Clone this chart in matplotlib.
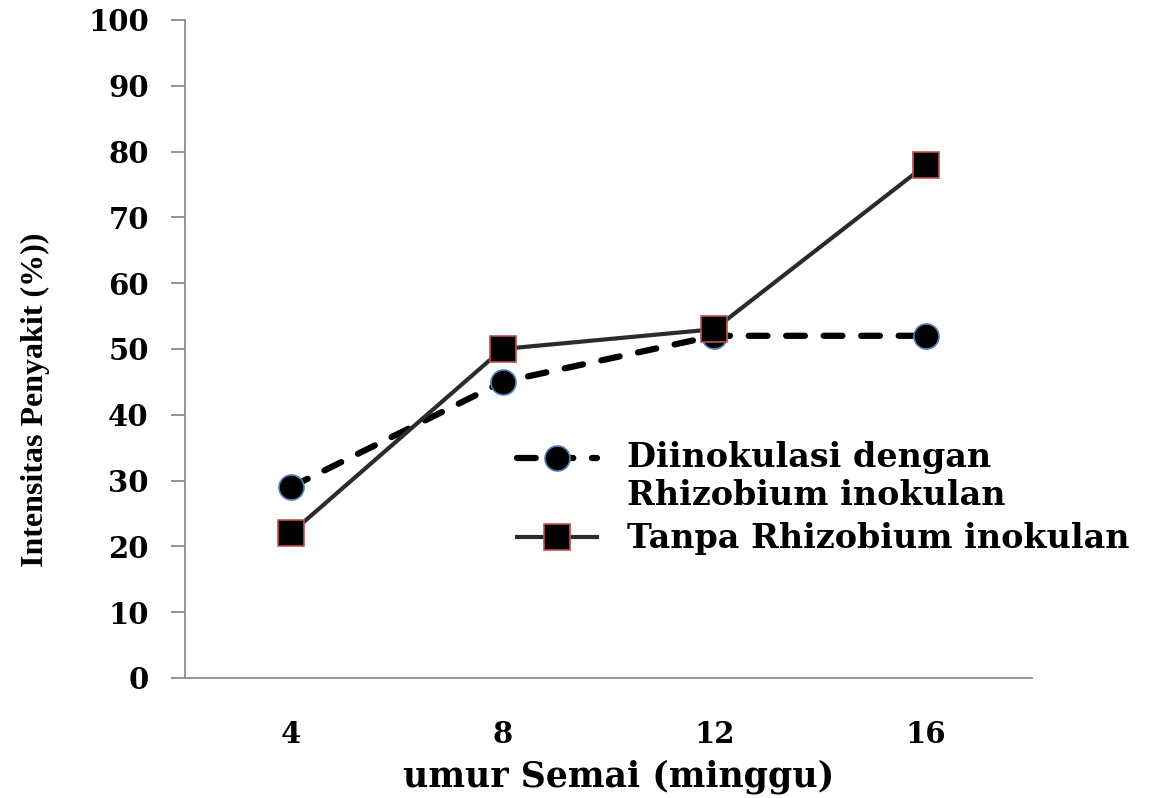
import numpy as np
import matplotlib
matplotlib.use('Agg')
import matplotlib.pyplot as plt
from matplotlib.legend_handler import HandlerLine2D

# Data
weeks = ['4', '8', '12', '16']
diinokulasi = [29, 45, 52, 52]
tanpa = [22, 50, 53, 78]
yticks = [0, 10, 20, 30, 40, 50, 60, 70, 80, 90, 100]

plt.rcParams['font.family'] = ['DejaVu Serif']
plt.rcParams['font.weight'] = 'bold'


# legend handle lifted to the first line of a two-line label
class FirstLineHandler(HandlerLine2D):
    def create_artists(self, legend, orig_handle, xdescent, ydescent,
                       width, height, fontsize, trans):
        arts = super().create_artists(legend, orig_handle, xdescent, ydescent,
                                      width, height, fontsize, trans)
        for a in arts:
            a.set_ydata(np.asarray(a.get_ydata()) + 0.6 * fontsize)
        return arts


fig = plt.figure(figsize=(11.59, 7.98), dpi=100)
ax = fig.add_axes([0.1596, 0.1504, 0.7308, 0.8246])

x = np.arange(len(weeks))
l1, = ax.plot(x, diinokulasi, color='black', lw=4.5, linestyle=(0, (3, 3)),
              dash_capstyle='round', solid_capstyle='round',
              marker='o', markersize=18, markerfacecolor='black',
              markeredgecolor='#4f81bd', markeredgewidth=1.2,
              label='Diinokulasi dengan\nRhizobium inokulan')
l2, = ax.plot(x, tanpa, color='#2b2b2b', lw=3, linestyle='-',
              marker='s', markersize=19, markerfacecolor='black',
              markeredgecolor='#c0504d', markeredgewidth=1.2,
              label='Tanpa Rhizobium inokulan')

ax.set_xlim(-0.5, 3.5)
ax.set_ylim(0, 100)
ax.set_xticks(x)
ax.set_xticklabels(weeks)
ax.set_yticks(yticks)

for s in ['top', 'right']:
    ax.spines[s].set_visible(False)
for s in ['left', 'bottom']:
    ax.spines[s].set_color('#8c8c8c')
    ax.spines[s].set_linewidth(1.3)

ax.tick_params(axis='y', direction='out', length=10, width=1.3, color='#8c8c8c',
               pad=16, labelsize=21)
ax.tick_params(axis='x', length=0, pad=30, labelsize=21)

ax.set_ylabel('Intensitas Penyakit (%))', fontsize=23, fontweight='bold',
              family='Liberation Serif')
ax.yaxis.set_label_coords(-0.1593, 0.4225)
fig.text(0.534, 0.014, 'umur Semai (minggu)', ha='center', va='baseline', fontsize=25)

leg = ax.legend(loc='upper left', bbox_to_anchor=(0.376, 0.38), frameon=False,
                fontsize=24, handlelength=2.4, handletextpad=0.9, labelspacing=0.3,
                borderaxespad=0, handler_map={l1: FirstLineHandler()})

fig.savefig('out.png', dpi=100, facecolor='white')
